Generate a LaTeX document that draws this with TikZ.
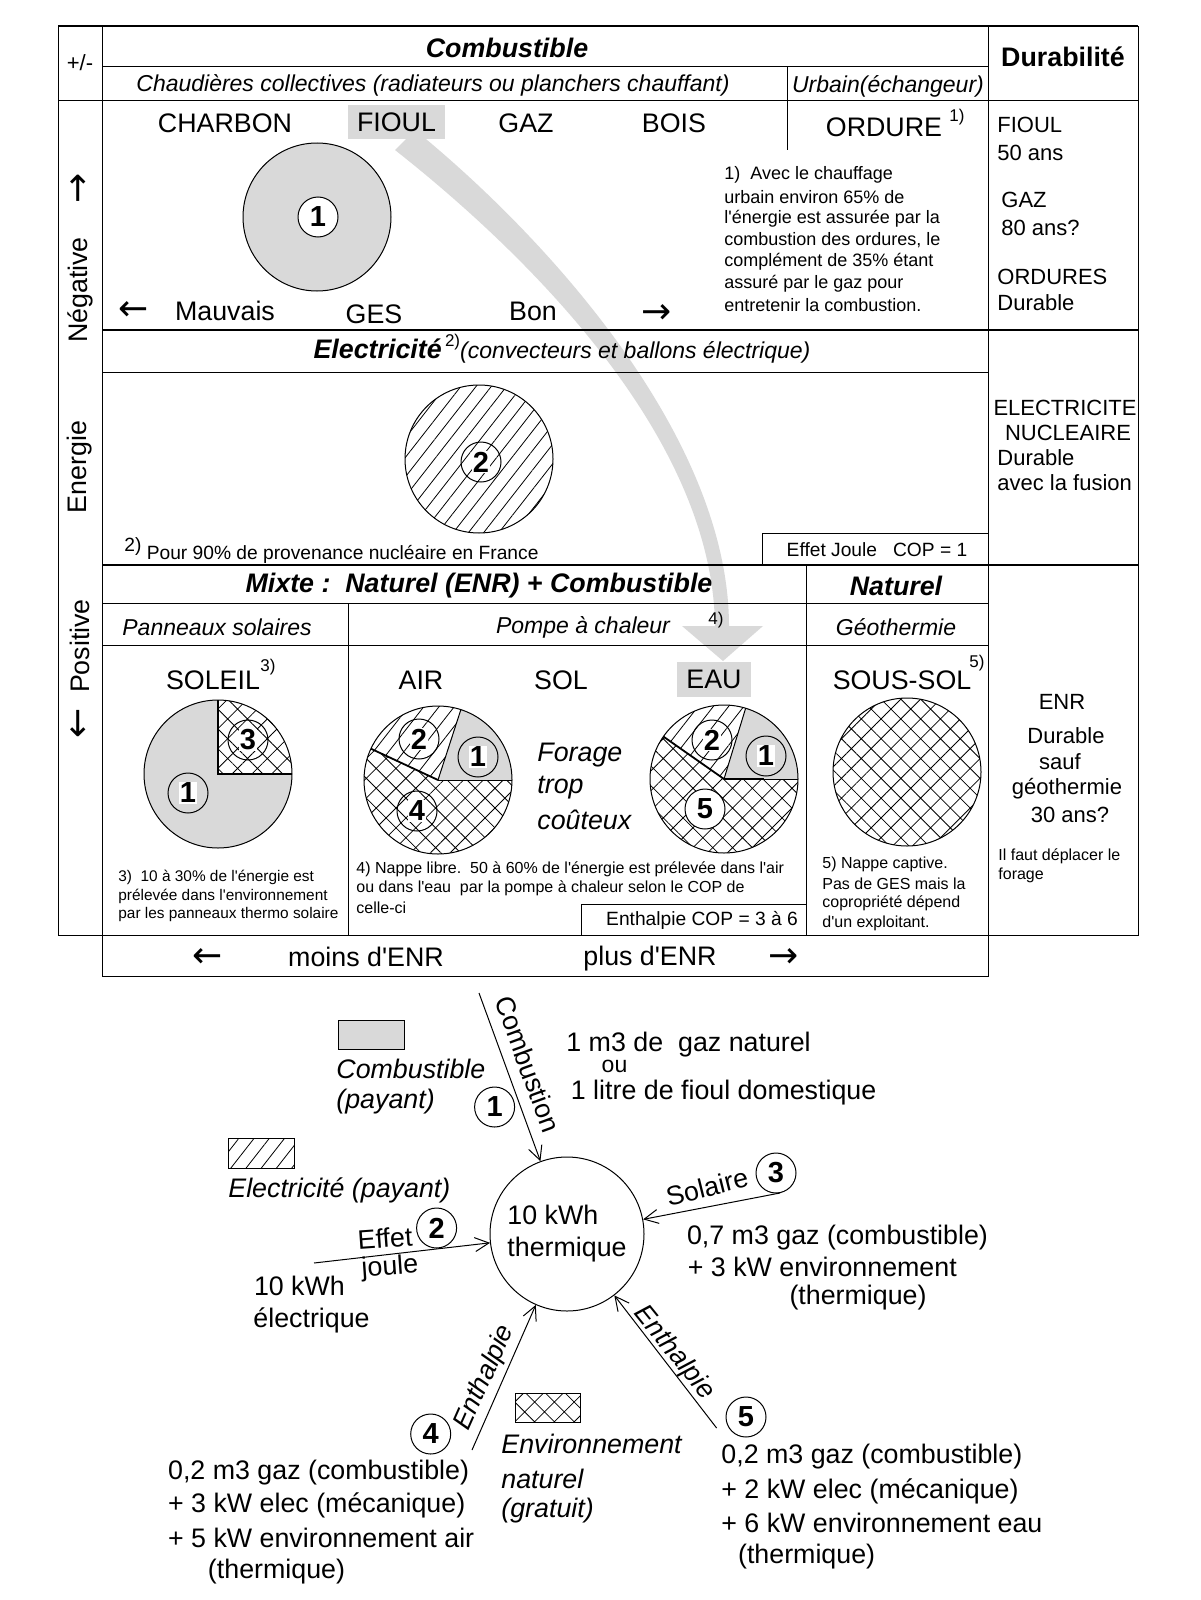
\documentclass[tikz,border=0pt]{standalone}
\usepackage{fontspec}
\setmainfont{Liberation Sans}
\newfontfamily\symf{DejaVu Sans}
\usetikzlibrary{patterns.meta,arrows.meta}
\definecolor{gfill}{gray}{0.85}
\newcommand\szL{\fontsize{13.4}{16}\selectfont}
\newcommand\szH{\fontsize{11.5}{14}\selectfont}
\newcommand\szM{\fontsize{11}{13}\selectfont}
\newcommand\szP{\fontsize{9.6}{12}\selectfont}
\newcommand\szN{\fontsize{9}{11}\selectfont}
\newcommand\szS{\fontsize{8}{9.5}\selectfont}
\newcommand\szT{\fontsize{8.5}{10}\selectfont}
\newcommand\szD{\bfseries\fontsize{14.5}{16}\selectfont}
\newcommand\szA{\symf\fontsize{18}{20}\selectfont}
\newcommand\q{\textquotesingle}
\begin{document}
\begin{tikzpicture}[x=0.5pt,y=-0.5pt,
  thinl/.style={line width=0.5pt},
  thickl/.style={line width=1.1pt},
  lbl/.style={inner sep=0pt,font=\szL},
  arw/.style={inner sep=0pt,font=\szA},
  lw/.style={inner sep=0pt,anchor=west},
  hl/.style={pattern={Lines[angle=52,distance=6pt,line width=0.4pt]}},
  hx/.style={pattern={Hatch[angle=45,distance=7pt,line width=0.4pt]}},
  numc/.style={circle,draw,line width=0.5pt,minimum size=20pt,inner sep=0pt},
  numt/.style={font=\szD,fill=white,inner sep=0.6pt},
  bnum/.style={circle,draw,line width=0.5pt,minimum size=20pt,inner sep=0pt,font=\szD},
  arr/.style={line width=0.5pt,-{Straight Barb[length=7pt,width=7pt]}},
  sepl/.style={line width=0.9pt}]
\useasboundingbox (0,0) rectangle (1200,1600);
\fill[white] (0,0) rectangle (1200,1600);

% grey curved arrow
\fill[gfill] (395,150) .. controls (532,258) and (714,440) .. (715,628) -- (729,628) .. controls (730,440) and (550,240) .. (415,130) -- cycle;
\fill[gfill] (682,626) -- (763,626) -- (723,661) -- cycle;

% ---------- table ----------
\draw[thinl] (58,26) -- (58,935) -- (1138,935) -- (1138,26);
\draw[thickl] (58,26) -- (1138,26);
\draw[thinl] (102,26) -- (102,976) -- (988,976) -- (988,935);
\draw[thinl] (988,26) -- (988,935);
\draw[thinl] (58,100.5) -- (1138,100.5);
\draw[thinl] (102,66.5) -- (988,66.5);
\draw[thinl] (787,66.5) -- (787,150);
\draw[thickl] (102,330) -- (1138,330);
\draw[thinl] (102,372.5) -- (988,372.5);
\draw[thickl] (102,565) -- (1138,565);
\draw[thinl] (102,603.5) -- (988,603.5);
\draw[thinl] (102,645.5) -- (988,645.5);
\draw[thinl] (348,603.5) -- (348,935);
\draw[thinl] (806,565) -- (806,935);
\draw[thinl] (762,565) |- (988,533);
\draw[thinl] (581,935) |- (806,904);

% left column
\node[font=\szM,inner sep=0pt] (tPM) at (80,63) {+/-};
\node[arw,rotate=90] (lArr1) at (80,188) {→};
\node[lbl,rotate=90] (lNeg) at (80,290) {Négative};
\node[lbl,rotate=90] (lEn) at (80,467) {Energie};
\node[lbl,rotate=90] (lPos) at (80,646) {Positive};
\node[arw,rotate=90] (lArr2) at (80,723) {←};

% header row
\node[lbl,font=\szL\bfseries\itshape] (tComb) at (507,48) {Combustible};
\node[lbl,font=\szL\bfseries] (tDur) at (1063,57) {Durabilité};
\node[lbl,font=\szH\itshape] (tChaud) at (433,85) {Chaudières collectives (radiateurs ou planchers chauffant)};
\node[lbl,font=\szH\itshape] (tUrb) at (888,86) {Urbain(échangeur)};

% combustible section
\node[lbl,fill=gfill,minimum width=48.5pt,minimum height=17pt] (tFioul) at (396.5,122) {FIOUL};
\node[lbl] (tCharbon) at (225,123) {CHARBON};
\node[lbl] (tGaz) at (526,123) {GAZ};
\node[lbl] (tBois) at (674,123) {BOIS};
\node[lbl] (tOrd) at (884,127) {ORDURE};
\node[lbl,font=\szT] (tOrdS) at (957,117) {1)};
\fill[gfill,draw=black,thinl] (317,217) circle[radius=74];
\node[numc,fill=white] (pC1) at (318,217) {};
\node[numt] (pC1t) at (pC1) {1};
\node[arw] (tML) at (134,311) {←};
\node[lbl] (tMau) at (225,311) {Mauvais};
\node[lbl] (tGES) at (374,314) {GES};
\node[lbl] (tBon) at (533,311) {Bon};
\node[arw] (tMR) at (657,314) {→};
\foreach \t [count=\i] in {{1)\ \ Avec le chauffage},{urbain environ 65\% de},{l\q{}énergie est assurée par la},{combustion des ordures, le},{complément de 35\% étant},{assuré par le gaz pour},{entretenir la combustion.}}
  \node[lw,font=\szN] (na\i) at (724,{175+21.7*(\i-1)}) {\t};
\node[lw,font=\szM] (d1) at (997,125) {FIOUL};
\node[lw,font=\szM] (d2) at (997,153) {50 ans};
\node[lw,font=\szM] (d3) at (1001,200) {GAZ};
\node[lw,font=\szM] (d4) at (1001,228) {80 ans?};
\node[lw,font=\szM] (d5) at (997,277) {ORDURES};
\node[lw,font=\szM] (d6) at (997,303) {Durable};

% electricite section
\node[inner sep=0pt,anchor=base] (tElec) at (562,358) {{\szL\bfseries\itshape Electricité}\,\raisebox{6pt}{\szT 2)}{\szH\itshape (convecteurs et ballons électrique)}};
\filldraw[hl,draw=black,thinl] (479,459) circle[radius=74];
\node[numc] (pE2) at (481,462) {};
\node[numt] (pE2t) at (pE2) {2};
\node[lw,font=\szP] (tN2) at (124,551) {\raisebox{4pt}{2)} Pour 90\% de provenance nucléaire en France};
\node[lbl,font=\szP] (tEJ) at (877,550) {Effet Joule\ \ \ COP = 1};
\node[lbl,font=\szM] (dE1) at (1065,408) {ELECTRICITE};
\node[lbl,font=\szM] (dE2) at (1068,433) {NUCLEAIRE};
\node[lw,font=\szM] (dE3) at (997,458) {Durable};
\node[lw,font=\szM] (dE4) at (997,483) {avec la fusion};

% mixte section headers
\node[lbl,font=\szL\bfseries\itshape] (tMix) at (479,586) {Mixte :\ \ Naturel (ENR) + Combustible};
\node[lbl,font=\szL\bfseries\itshape] (tNat) at (896,586) {Naturel};
\node[lbl,font=\szH\itshape] (tPan) at (217,627) {Panneaux solaires};
\node[lbl,font=\szH\itshape] (tPAC) at (583,627) {Pompe à chaleur};
\node[lbl,font=\szT] (tPACs) at (716,620) {4)};
\node[lbl,font=\szH\itshape] (tGeo) at (896,627) {Géothermie};
\node[lbl] (tSol) at (213,680) {SOLEIL};
\node[lbl,font=\szT] (tSolS) at (268,667) {3)};
\node[lbl] (tAir) at (421,680) {AIR};
\node[lbl] (tSOL) at (561,680) {SOL};
\node[lbl,fill=gfill,minimum width=37pt,minimum height=17.5pt] (tEau) at (714,679.5) {EAU};
\node[lbl] (tSS) at (902,680) {SOUS-SOL};
\node[lbl,font=\szT] (tSSs) at (977,663) {5)};

% soleil pie
\fill[gfill] (218,774) -- ++(-90:74) arc[start angle=-90,end angle=-360,radius=74] -- cycle;
\fill[hx] (218,774) -- ++(0:74) arc[start angle=0,end angle=-90,radius=74] -- cycle;
\draw[thinl] (218,774) circle[radius=74];
\draw[sepl] (218,700) -- (218,774) -- (292,774);
\node[numc] (pS3) at (248,740) {};
\node[numt] (pS3t) at (pS3) {3};
\node[numc] (pS1) at (188,793) {};
\node[numt] (pS1t) at (pS1) {1};

% air pie
\fill[gfill] (438,780) -- ++(0:74) arc[start angle=0,end angle=-72,radius=74] -- cycle;
\fill[hl] (438,780) -- ++(-72:74) arc[start angle=-72,end angle=-155,radius=74] -- cycle;
\fill[hx] (438,780) -- ++(-155:74) arc[start angle=-155,end angle=-360,radius=74] -- cycle;
\draw[thinl] (438,780) circle[radius=74];
\draw[thinl] (438,780) -- ++(0:74);
\draw[thinl] (438,780) -- ++(-72:74);
\draw[sepl] (438,780) -- ++(-155:74);
\node[numc] (pA2) at (419,739) {};
\node[numt] (pA2t) at (pA2) {2};
\node[numc] (pA1) at (478,757) {};
\node[numt] (pA1t) at (pA1) {1};
\node[numc] (pA4) at (417,811) {};
\node[numt] (pA4t) at (pA4) {4};

\node[lw,font=\szL\itshape] (tF1) at (537,755) {Forage};
\node[lw,font=\szL\itshape] (tF2) at (537,788) {trop};
\node[lw,font=\szL\itshape] (tF3) at (537,820) {coûteux};

% eau pie
\fill[gfill] (724,779) -- ++(0:74) arc[start angle=0,end angle=-73,radius=74] -- cycle;
\fill[hl] (724,779) -- ++(-73:74) arc[start angle=-73,end angle=-145,radius=74] -- cycle;
\fill[hx] (724,779) -- ++(-145:74) arc[start angle=-145,end angle=-360,radius=74] -- cycle;
\draw[thinl] (724,779) circle[radius=74];
\draw[sepl] (724,779) -- ++(0:40);
\draw[thinl] (724,779) -- ++(0:74);
\draw[thinl] (724,779) -- ++(-73:74);
\draw[sepl] (724,779) -- ++(-145:74);
\node[numc] (pW2) at (712,740) {};
\node[numt] (pW2t) at (pW2) {2};
\node[numc] (pW1) at (766,756) {};
\node[numt] (pW1t) at (pW1) {1};
\node[numc,fill=white] (pW5) at (705,809) {};
\node[numt] (pW5t) at (pW5) {5};

% sous-sol
\filldraw[hx,draw=black,thinl] (907,772) circle[radius=74];

% durabilite ENR
\node[lbl,font=\szM] (dN1) at (1062,702) {ENR};
\node[lbl,font=\szM] (dN2) at (1066,736) {Durable};
\node[lbl,font=\szM] (dN3) at (1060,762) {sauf};
\node[lbl,font=\szM] (dN4) at (1067,789) {géothermie};
\node[lbl,font=\szM] (dN5) at (1070,815) {30 ans?};
\node[lw,font=\szS] (dN6) at (998,856) {Il faut déplacer le};
\node[lw,font=\szS] (dN7) at (998,875) {forage};

% notes
\foreach \t [count=\i] in {{3)\ \ 10 à 30\% de l\q{}énergie est},{prélevée dans l\q{}environnement},{par les panneaux thermo solaire}}
  \node[lw,font=\fontsize{7.7}{9}\selectfont] (n3\i) at (118,{877+19*(\i-1)}) {\t};
\foreach \t [count=\i] in {{4) Nappe libre.\ \ 50 à 60\% de l\q{}énergie est prélevée dans l\q{}air},{ou dans l\q{}eau\ \ par la pompe à chaleur selon le COP de},{celle-ci}}
  \node[lw,font=\szS] (n4\i) at (356,{869+19.5*(\i-1)}) {\t};
\foreach \t [count=\i] in {{5) Nappe captive.},{Pas de GES mais la},{copropriété dépend},{d\q{}un exploitant.}}
  \node[lw,font=\szS] (n5\i) at (822,{864+19.7*(\i-1)}) {\t};
\node[lbl,font=\szP] (tEnth) at (702,920) {Enthalpie COP = 3 à 6};

% bottom row
\node[arw] (bL) at (208,958) {←};
\node[lbl] (bMoins) at (366,957) {moins d\q{}ENR};
\node[lbl] (bPlus) at (650,959) {plus d\q{}ENR};
\node[arw] (bR) at (784,958) {→};

% ---------- lower diagram ----------
\node[draw,thinl,fill=gfill,minimum width=33pt,minimum height=14.5pt,inner sep=0pt] (lgC) at (371,1034.5) {};
\node[lw,font=\szL\itshape] (lgCt1) at (336,1069) {Combustible};
\node[lw,font=\szL\itshape] (lgCt2) at (336,1102) {(payant)};
\node[draw,thinl,hl,minimum width=33pt,minimum height=15pt,inner sep=0pt] (lgE) at (261,1153) {};
\node[lw,font=\szL\itshape] (lgEt) at (228,1190) {Electricité (payant)};
\node[draw,thinl,hx,minimum width=32.7pt,minimum height=14.5pt,inner sep=0pt] (lgN) at (548,1407.5) {};
\node[lw,font=\szL\itshape] (lgNt1) at (501,1444) {Environnement};
\node[lw,font=\szL\itshape] (lgNt2) at (501,1479) {naturel};
\node[lw,font=\szL\itshape] (lgNt3) at (501,1511) {(gratuit)};

\node[circle,draw,thinl,minimum size=77pt,align=left,font=\szL,inner sep=0pt] (circ) at (567,1234) {10 kWh\\thermique};

\coordinate (s1) at (479,993);
\coordinate (s2) at (314,1263);
\coordinate (s3) at (780,1193);
\coordinate (s4) at (472,1450);
\coordinate (s5) at (716.6,1428);
\draw[arr] (s1) -- (circ);
\draw[arr] (s2) -- (circ);
\draw[arr] (s3) -- (circ);
\draw[arr] (s4) -- (circ);
\draw[arr] (s5) -- (circ);

\node[lbl,rotate=-70] (lbComb) at (528,1064) {Combustion};
\node[bnum] (b1) at (494.6,1107) {1};
\node[lw,font=\szL] (t1a) at (566,1045) {1 m3 de\ \ gaz naturel};
\node[lbl,font=\szH] (t1b) at (614.5,1066) {ou};
\node[lw,font=\szL] (t1c) at (570.5,1093) {1 litre de fioul domestique};

\node[lbl,rotate=14] (lbSol) at (707,1187) {Solaire};
\node[bnum] (b3) at (776,1173) {3};
\node[lw,font=\szL] (t3a) at (686.6,1238) {0,7 m3 gaz (combustible)};
\node[lw,font=\szL] (t3b) at (687.5,1267) {+ 3 kW environnement};
\node[lbl] (t3c) at (858,1298) {(thermique)};

\node[lbl,rotate=4] (lbEf1) at (385,1238) {Effet};
\node[lbl,rotate=4] (lbEf2) at (390,1268) {joule};
\node[bnum] (b2) at (436.6,1228) {2};
\node[lw,font=\szL] (t2a) at (253.6,1286) {10 kWh};
\node[lw,font=\szL] (t2b) at (253,1320) {électrique};

\node[lbl,font=\szL\itshape,rotate=66] (lbEn4) at (485,1378) {Enthalpie};
\node[bnum] (b4) at (430.7,1434) {4};
\node[lw,font=\szL] (t4a) at (167.7,1473) {0,2 m3 gaz (combustible)};
\node[lw,font=\szL] (t4b) at (167.7,1505) {+ 3 kW elec (mécanique)};
\node[lw,font=\szL] (t4c) at (167.7,1538) {+ 5 kW environnement air};
\node[lbl] (t4d) at (276.5,1572) {(thermique)};

\node[lbl,font=\szL\itshape,rotate=-51] (lbEn5) at (674,1353) {Enthalpie};
\node[bnum] (b5) at (746,1417) {5};
\node[lw,font=\szL] (t5a) at (721,1457) {0,2 m3 gaz (combustible)};
\node[lw,font=\szL] (t5b) at (721,1491) {+ 2 kW elec (mécanique)};
\node[lw,font=\szL] (t5c) at (721,1523) {+ 6 kW environnement eau};
\node[lbl] (t5d) at (806.6,1557) {(thermique)};
\end{tikzpicture}
\end{document}
